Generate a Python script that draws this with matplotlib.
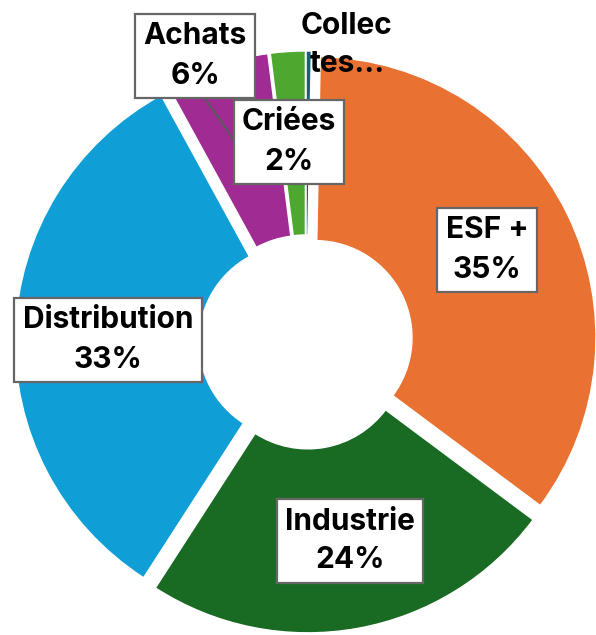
import matplotlib
matplotlib.use("Agg")
import matplotlib.pyplot as plt

# slice order clockwise from 12 o'clock
categories = ["Collectes", "ESF +", "Industrie", "Distribution", "Achats", "Criées"]
values = [0.3, 35.0, 24.0, 33.0, 6.0, 2.0]
colors = ["#156082", "#E97132", "#196B24", "#0F9ED5", "#A02B93", "#4EA72E"]

# label text shown on chart (Collectes label is truncated in the original)
label_text = ["Collec\ntes...", "ESF +", "Industrie", "Distribution", "Achats", "Criées"]
label_pos = [(347, 590), (487, 385), (350, 94), (108, 295), (195, 579), (289, 493)]
label_box = [False, True, True, True, True, True]

W, H = 596, 635
fig = plt.figure(figsize=(W / 100, H / 100), dpi=100)
ax = fig.add_axes([0, 0, 1, 1])

ax.pie(values, colors=colors, startangle=90, counterclock=False,
       center=(306, 293), radius=281, explode=[10] * len(values),
       wedgeprops=dict(width=184, edgecolor="white", linewidth=1.0),
       frame=True)
ax.set_xlim(0, W)
ax.set_ylim(0, H)
ax.set_aspect("equal")
ax.axis("off")

total = sum(values)

# leader line for Achats (runs under the Criées box)
ax.plot([206, 246], [535, 478], color="#595959", lw=1.5, zorder=3)

for i, name in enumerate(categories):
    x, y = label_pos[i]
    if label_box[i]:
        txt = f"{label_text[i]}\n{round(values[i] / total * 100)}%"
        bbox = dict(boxstyle="square,pad=0.28", fc="white", ec="#666666", lw=1.6)
    else:
        txt = label_text[i]
        bbox = None
    ax.text(x, y, txt, ha="center", va="center", fontsize=21.5, fontweight="bold",
            family=["Inter", "DejaVu Sans"], linespacing=1.5, color="black",
            bbox=bbox, zorder=5 + i)

fig.savefig("out.png", dpi=100)
